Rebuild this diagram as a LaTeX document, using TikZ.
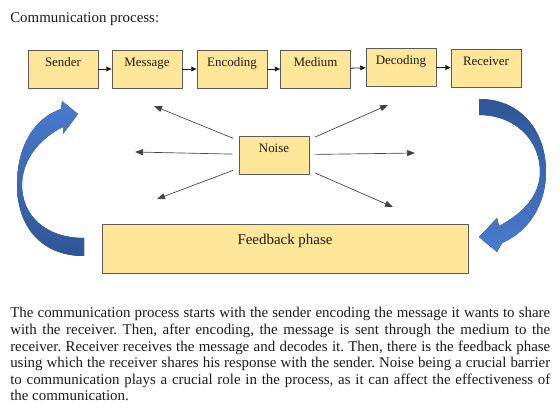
\documentclass[tikz,border=0pt]{standalone}
\usepackage{fontspec}
\setmainfont{Liberation Serif}
\usetikzlibrary{arrows.meta}
\definecolor{tinta}{HTML}{1A1A1A}
\definecolor{crema}{HTML}{FFE699}
\definecolor{borde}{HTML}{5A5A5A}
\definecolor{azul}{HTML}{4A7BCF}
\definecolor{marino}{HTML}{2E5698}
\definecolor{gris}{HTML}{404040}
\frenchspacing

\begin{document}
\begin{tikzpicture}[x=0.75pt, y=-0.75pt, color=tinta,
    caja/.style={draw=borde, fill=crema, line width=0.6pt, minimum width=52.5pt,
      text height=9.2pt, text depth=13.3pt, inner sep=3pt, font=\rmfamily\fontsize{9.7}{11}\selectfont},
    enlace/.style={tinta, line width=0.6pt, -{Triangle[length=4pt,width=3.6pt]}},
    ruido/.style={gris, line width=0.5pt, shorten <=4.5pt, -{Triangle[length=6pt,width=4.5pt]}}]
  \useasboundingbox (0,0) rectangle (560,420);
  \node[anchor=base west, inner sep=0, font=\rmfamily\fontsize{11.2}{12.45}\selectfont] (titulo) at (10,22.6) {Communication process:};

  \foreach \n/\x/\y/\t in {sender/63/69/Sender, message/147/69/Message, encoding/232/69/Encoding,
      medium/315.5/69/Medium, decoding/401/67/Decoding, receiver/486/68/Receiver}
    \node[caja] (\n) at (\x,\y) {\t};
  \foreach \a/\b in {sender/message, message/encoding, encoding/medium, medium/decoding, decoding/receiver}
    \draw[enlace] (\a) -- (\b);

  \node[caja] (noise) at (274,155) {Noise};
  \foreach \i/\x/\y in {1/154/106, 2/135/152, 3/157/199, 4/388/105, 5/415/153, 6/393/207} {
    \coordinate (r\i) at (\x,\y);
    \draw[ruido] (noise) -- (r\i);
  }

  \node[caja, minimum width=274.5pt, text height=12pt, text depth=18.75pt,
    font=\rmfamily\fontsize{11.2}{13}\selectfont] (feedback) at (285,248.5) {Feedback phase};

  \fill[top color=azul, bottom color=marino] (84,256) .. controls (40,256) and (17,225) .. (17,185)
    .. controls (17,145) and (35,118) .. (61,109) -- (62,101) -- (78,114) -- (63,134) -- (63,127)
    .. controls (40,138) and (22,160) .. (22,185) .. controls (22,215) and (45,238) .. (84,238) -- cycle;
  \fill[top color=marino, bottom color=azul] (479,99) .. controls (520,99) and (546,130) .. (546,172)
    .. controls (546,205) and (528,232) .. (502,243) -- (497,252) -- (479,237) -- (497,218) -- (499,226)
    .. controls (522,214) and (540,196) .. (540,172) .. controls (540,140) and (515,115) .. (479,115) -- cycle;

  \node[anchor=north west, inner sep=0, text width=405pt, align=justify,
    font=\rmfamily\fontsize{11.2}{12.45}\selectfont] (texto) at (10,307.3)
    {The communication process starts with the sender encoding the message it wants to share\linebreak
    with the receiver. Then, after encoding, the message is sent through the medium to the\linebreak
    receiver. Receiver receives the message and decodes it. Then, there is the feedback phase\linebreak
    using which the receiver shares his response with the sender. Noise being a crucial barrier\linebreak
    to communication plays a crucial role in the process, as it can affect the effectiveness of\linebreak
    the communication.};
\end{tikzpicture}
\end{document}
